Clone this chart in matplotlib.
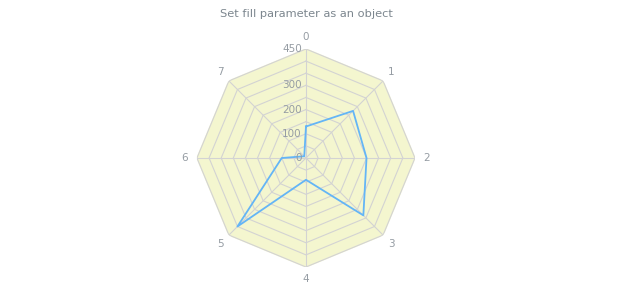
import numpy as np
import matplotlib.pyplot as plt

# data
categories = ['0', '1', '2', '3', '4', '5', '6', '7']
values = [130, 275, 250, 335, 90, 400, 100, 10]
r_ticks = [0, 100, 200, 300, 450]
r_grid = [50, 100, 150, 200, 250, 300, 350, 400, 450]
R_MAX = 450

TEXT = '#959ca3'
GRID = '#d3d3d3'
FILL = '#f4f6cf'
LINE = '#64b5f6'

n = len(categories)
theta = np.linspace(0, 2 * np.pi, n, endpoint=False)
theta_c = np.append(theta, theta[0])

fig = plt.figure(figsize=(6.2, 3.0), dpi=100)
ax = fig.add_axes([0.3177, 0.11, 0.3516, 0.7267], projection='polar')
ax.set_theta_zero_location('N')
ax.set_theta_direction(-1)
ax.set_ylim(0, R_MAX)
ax.grid(False)
ax.spines['polar'].set_visible(False)
ax.set_xticks([])
ax.set_yticks([])
ax.patch.set_alpha(0)

# polygon background
ax.fill(theta_c, [R_MAX] * (n + 1), color=FILL, zorder=0)

# polygon grid rings
for r in r_grid:
    ax.plot(theta_c, [r] * (n + 1), color=GRID, lw=0.8, zorder=1)
# spokes
for t in theta:
    ax.plot([t, t], [0, R_MAX], color=GRID, lw=0.8, zorder=1)

# series
vals_c = values + values[:1]
ax.plot(theta_c, vals_c, color=LINE, lw=1.3, zorder=3)

# category labels
for t, lab in zip(theta, categories):
    ax.text(t, R_MAX * 1.11, lab, ha='center', va='center',
            fontsize=7.5, color=TEXT, clip_on=False)

# radial labels
for r in r_ticks:
    ax.annotate(str(r), xy=(0, r), xytext=(-3, 0), textcoords='offset points',
                ha='right', va='center', fontsize=7.5, color=TEXT, zorder=4)

fig.text(0.494, 0.953, 'Set fill parameter as an object', ha='center',
         va='center', fontsize=8.2, color='#7c868e')

fig.savefig('out.png', dpi=100)
